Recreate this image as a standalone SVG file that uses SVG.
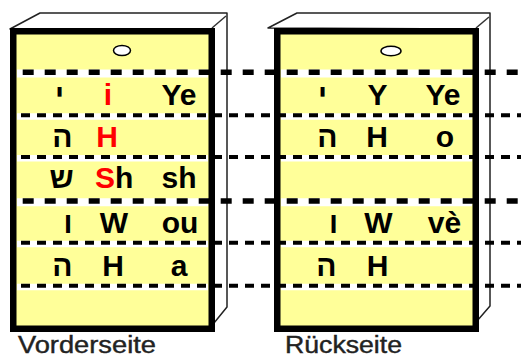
<svg xmlns="http://www.w3.org/2000/svg" width="521" height="358" viewBox="0 0 521 358">
<style>
.back{fill:#fff;stroke:#222;stroke-width:1.5;stroke-linejoin:round}
.edge{fill:none;stroke:#333;stroke-width:1.5}
.face{fill:#FFFF99;stroke:#000;stroke-width:6.5}
.hole{fill:#fff;stroke:#000;stroke-width:1.5}
.t{font-family:"Liberation Sans","DejaVu Sans",Arial,sans-serif;font-weight:bold;font-size:30px;fill:#000;text-anchor:middle}
.r{fill:#FF0000}
.lbl{font-family:"Liberation Sans",Arial,sans-serif;font-size:23px;fill:#222;stroke:#222;stroke-width:0.4}
.wk{stroke:#fff;fill:none}
.thick{stroke:#000;stroke-width:5.5;stroke-dasharray:11 11;fill:none}
.thin{stroke:#000;stroke-width:4;stroke-dasharray:9 7;fill:none}
</style>
<g id="card-front">
<polygon class="back" points="10,29 40,13 227,13 227,307 214,323 214,29"/>
<line class="edge" x1="212" y1="28" x2="226" y2="16"/>
<rect class="face" x="13.25" y="31.25" width="198.5" height="297.5"/>
<ellipse class="hole" cx="122" cy="50.5" rx="8.5" ry="5"/>
<text class="t" x="59.5" y="105">י</text>
<text class="t r" x="108" y="105">i</text>
<text class="t" x="179" y="105">Ye</text>
<text class="t" x="62.5" y="147">ה</text>
<text class="t r" x="107" y="147">H</text>
<text class="t" x="61.7" y="188">ש</text>
<text class="t" x="95" y="188" style="text-anchor:start"><tspan class="r">S</tspan>h</text>
<text class="t" x="179" y="188">sh</text>
<text class="t" x="68" y="233">ו</text>
<text class="t" x="114" y="233">W</text>
<text class="t" x="180" y="233">ou</text>
<text class="t" x="62.5" y="276">ה</text>
<text class="t" x="113" y="276">H</text>
<text class="t" x="179" y="276">a</text>
<text class="lbl" x="18" y="353" textLength="138" lengthAdjust="spacingAndGlyphs">Vorderseite</text>
</g>
<g id="card-back">
<polygon class="back" points="268,28 297,13 490,13 490,306 477,321 477,29"/>
<line class="edge" x1="476" y1="28" x2="489" y2="17"/>
<rect class="face" x="277.25" y="31.25" width="198.5" height="297.5"/>
<ellipse class="hole" cx="391" cy="51" rx="10" ry="4.8"/>
<text class="t" x="322.5" y="105">י</text>
<text class="t" x="377.5" y="105">Y</text>
<text class="t" x="443" y="105">Ye</text>
<text class="t" x="327.5" y="147">ה</text>
<text class="t" x="377" y="147">H</text>
<text class="t" x="445" y="147">o</text>
<text class="t" x="333.5" y="233">ו</text>
<text class="t" x="378.5" y="233">W</text>
<text class="t" x="444.5" y="233">vè</text>
<text class="t" x="326.5" y="276">ה</text>
<text class="t" x="377.5" y="276">H</text>
<text class="lbl" x="285" y="353" textLength="117" lengthAdjust="spacingAndGlyphs">Rückseite</text>
</g>
<g id="lines">
<path class="wk" stroke-width="8" d="M17,73.6H208M281,73.6H472M17,202.2H208M281,202.2H472"/>
<path class="wk" stroke-width="6.5" d="M17,116.5H208M281,116.5H472M17,158.2H208M281,158.2H472M17,243.9H208M281,243.9H472M17,286.9H208M281,286.9H472"/>
<line class="thick" x1="17" y1="72.3" x2="521" y2="72.3" stroke-dashoffset="16.3"/>
<line class="thick" x1="17" y1="201" x2="521" y2="201" stroke-dashoffset="16.3"/>
<line class="thin" x1="17" y1="115.3" x2="521" y2="115.3" stroke-dashoffset="12"/>
<line class="thin" x1="17" y1="157" x2="521" y2="157" stroke-dashoffset="12"/>
<line class="thin" x1="17" y1="242.7" x2="521" y2="242.7" stroke-dashoffset="12"/>
<line class="thin" x1="17" y1="285.7" x2="521" y2="285.7" stroke-dashoffset="12"/>
</g>
</svg>
